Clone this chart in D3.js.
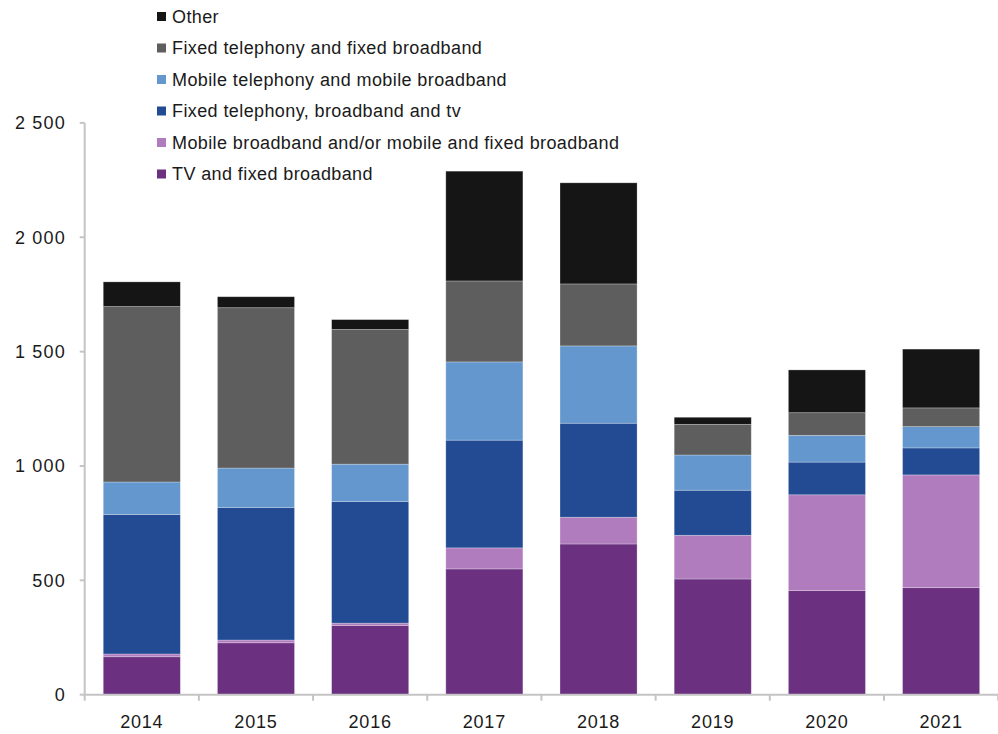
<!DOCTYPE html>
<html>
<head>
<meta charset="utf-8">
<script src="https://cdn.jsdelivr.net/npm/d3@7"></script>
<style>
  html, body { margin: 0; padding: 0; background: #fff; }
  svg { display: block; }
  text { font-family: "Liberation Sans", Arial, sans-serif; fill: #1a1a1a; }
</style>
</head>
<body>
<svg id="chart" width="998" height="734"></svg>
<script>
// Years on the x axis
const years = ["2014", "2015", "2016", "2017", "2018", "2019", "2020", "2021"];

// Bundle counts per year (thousands), bottom to top of each stack
const tvFixed               = [166, 227, 303, 550, 659, 506, 456, 468];
const mobileBroadband       = [12, 12, 10, 92, 117, 191, 418, 493];
const fixedTelBroadbandTv   = [610, 580, 532, 471, 411, 197, 143, 118];
const mobileTelBroadband    = [142, 172, 163, 342, 338, 154, 117, 93];
const fixedTelFixedBroadband = [767, 701, 589, 354, 271, 134, 99, 82];
const other                 = [108, 48, 43, 480, 442, 31, 187, 257];

// Series names (stack order) and y axis ticks
const seriesNames = [
  "TV and fixed broadband",
  "Mobile broadband and/or mobile and fixed broadband",
  "Fixed telephony, broadband and tv",
  "Mobile telephony and mobile broadband",
  "Fixed telephony and fixed broadband",
  "Other"
];
const seriesValues = [tvFixed, mobileBroadband, fixedTelBroadbandTv, mobileTelBroadband, fixedTelFixedBroadband, other];
const seriesColors = ["#6b3180", "#b07cbd", "#224b94", "#6497cd", "#5e5e5e", "#151515"];
const yTicks = [0, 500, 1000, 1500, 2000, 2500];
const yTickLabels = ["0", "500", "1 000", "1 500", "2 000", "2 500"];

const svg = d3.select("#chart");

const plotLeft = 84.7, plotRight = 998.2, plotTop = 122.9, plotBottom = 694.7;
const axisColor = "#c4c4c4";

const x = d3.scaleBand().domain(years).range([plotLeft, plotRight])
  .paddingInner(0.325).paddingOuter(0.1625);
const y = d3.scaleLinear().domain([0, 2500]).range([plotBottom, plotTop]);

// Table rows for the stack layout
const rows = years.map((yr, i) => {
  const r = { year: yr };
  seriesNames.forEach((n, k) => { r[n] = seriesValues[k][i]; });
  return r;
});
const stacked = d3.stack().keys(seriesNames)(rows);

// Bars
const layers = svg.append("g").selectAll("g").data(stacked).join("g")
  .attr("fill", (d, i) => seriesColors[i]);
layers.selectAll("rect").data(d => d).join("rect")
  .attr("x", d => x(d.data.year))
  .attr("width", x.bandwidth())
  .attr("y", d => y(d[1]))
  .attr("height", d => y(d[0]) - y(d[1]))
  .attr("stroke", "#ffffff")
  .attr("stroke-opacity", 0.35)
  .attr("stroke-width", 0.75);

// Y axis
const yAxis = svg.append("g");
yAxis.append("line")
  .attr("x1", plotLeft).attr("x2", plotLeft)
  .attr("y1", y(2500)).attr("y2", plotBottom)
  .attr("stroke", axisColor).attr("stroke-width", 2);
yAxis.selectAll("line.tick").data(yTicks).join("line")
  .attr("class", "tick")
  .attr("x1", plotLeft - 5).attr("x2", plotLeft)
  .attr("y1", d => y(d)).attr("y2", d => y(d))
  .attr("stroke", axisColor).attr("stroke-width", 2);
yAxis.selectAll("text").data(yTicks).join("text")
  .attr("x", 66)
  .attr("y", d => y(d))
  .attr("dy", "0.36em")
  .attr("text-anchor", "end")
  .attr("font-size", 18)
  .attr("letter-spacing", 1.2)
  .text((d, i) => yTickLabels[i]);

// X axis with ticks at category boundaries
const xAxis = svg.append("g");
xAxis.append("line")
  .attr("x1", plotLeft).attr("x2", plotRight)
  .attr("y1", plotBottom).attr("y2", plotBottom)
  .attr("stroke", axisColor).attr("stroke-width", 2);
const bounds = years.map(yr => x(yr) - x.step() * x.paddingOuter())
  .concat([plotRight]);
xAxis.selectAll("line.tick").data(bounds).join("line")
  .attr("class", "tick")
  .attr("x1", d => d).attr("x2", d => d)
  .attr("y1", plotBottom).attr("y2", plotBottom + 6)
  .attr("stroke", axisColor).attr("stroke-width", 2);
xAxis.selectAll("text").data(years).join("text")
  .attr("x", d => x(d) + x.bandwidth() / 2)
  .attr("y", 727.5)
  .attr("text-anchor", "middle")
  .attr("font-size", 18)
  .attr("letter-spacing", 0.8)
  .text(d => d);

// Legend, top entry is the top of the stack
const legendOrder = seriesNames.map((n, i) => ({ name: n, color: seriesColors[i] })).reverse();
const legend = svg.append("g");
const item = legend.selectAll("g").data(legendOrder).join("g")
  .attr("transform", (d, i) => `translate(0, ${16.5 + i * 31.5})`);
item.append("rect")
  .attr("x", 157).attr("y", -4.5)
  .attr("width", 9).attr("height", 9)
  .attr("fill", d => d.color);
item.append("text")
  .attr("x", 172).attr("y", 0)
  .attr("dy", "0.36em")
  .attr("font-size", 18)
  .attr("letter-spacing", 0.4)
  .text(d => d.name);
</script>
</body>
</html>
